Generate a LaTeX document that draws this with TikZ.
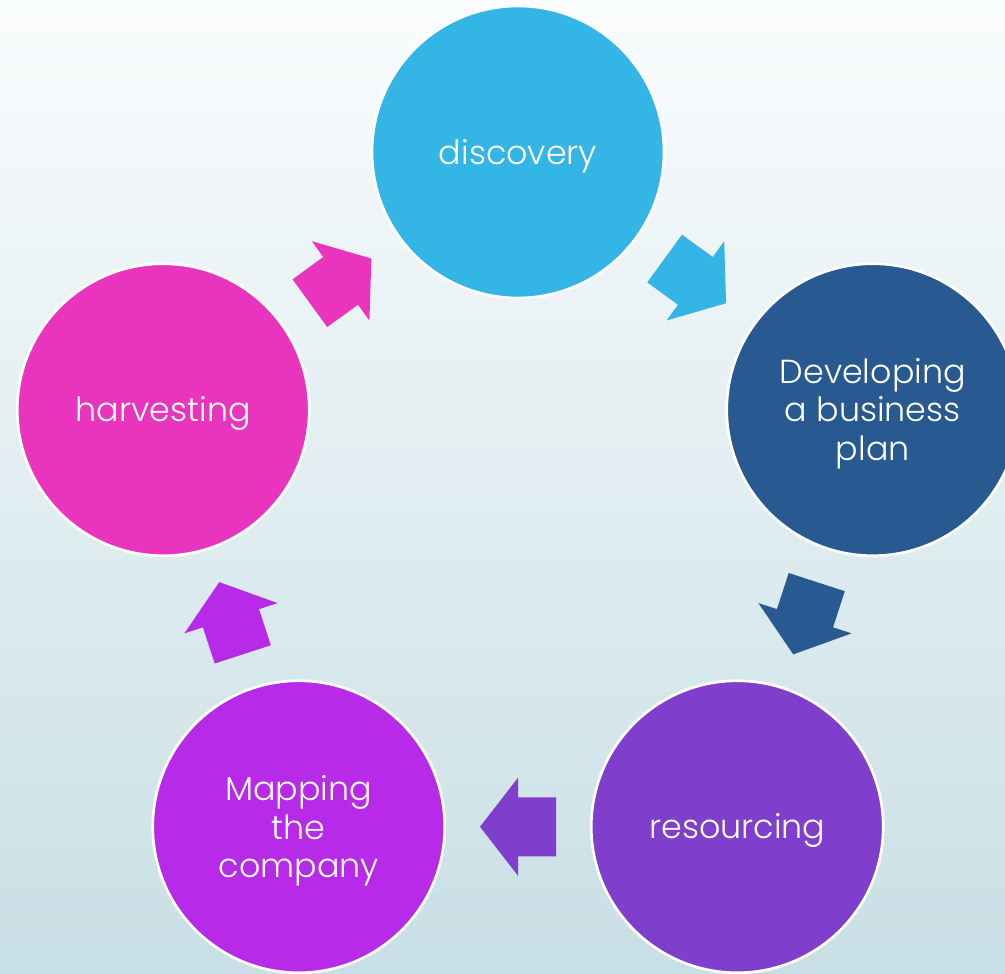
\documentclass[tikz,border=0pt]{standalone}
\usepackage{fontspec}
\setmainfont{Poppins Light}
\usetikzlibrary{calc}

\definecolor{bgtop}{RGB}{250,252,253}
\definecolor{bgbot}{RGB}{200,223,229}
\definecolor{cdisc}{RGB}{51,181,229}
\definecolor{cdev}{RGB}{40,90,145}
\definecolor{cres}{RGB}{127,63,204}
\definecolor{cmap}{RGB}{182,42,232}
\definecolor{charv}{RGB}{233,53,190}

% block arrow placed halfway between two stages, pointing along the cycle
\newcommand\stagearrow[4]{%
  \begin{scope}[shift={($(#1)!0.5!(#2)$)}, rotate=#3]
    \fill[#4] (-38,-29.5) -- (0,-29.5) -- (0,-49) -- (38,0)
              -- (0,49) -- (0,29.5) -- (-38,29.5) -- cycle;
  \end{scope}}

\begin{document}
\begin{tikzpicture}[x=0.75pt, y=0.75pt,
  stage/.style={circle, draw=white, line width=2pt, minimum size=219pt,
    inner sep=0pt},
  stagetext/.style={text=white, align=center, inner sep=0pt,
    font=\fontsize{25}{29}\selectfont}]

  % page and soft vertical background
  \useasboundingbox (-518,-448) rectangle (487,525);
  \clip (-518,-448) rectangle (487,525);
  \shade[top color=bgtop, bottom color=bgbot] (-518,-448) rectangle (487,525);

  % the five stages of the cycle
  \node[stage, fill=cdisc] (disc) at (90:373)   {};
  \node[stage, fill=cdev]  (dev)  at (18:373)   {};
  \node[stage, fill=cres]  (res)  at (-54:373)  {};
  \node[stage, fill=cmap]  (map)  at (-126:373) {};
  \node[stage, fill=charv] (harv) at (162:373)  {};

  % their labels
  \node[stagetext] (disc-t) at ([yshift=-3pt]disc.center) {discovery};
  \node[stagetext] (dev-t)  at ([yshift=-3pt]dev.center)  {Developing\\a business\\plan};
  \node[stagetext] (res-t)  at ([yshift=-3pt]res.center)  {resourcing};
  \node[stagetext] (map-t)  at ([yshift=-3pt]map.center)  {Mapping\\the\\company};
  \node[stagetext] (harv-t) at ([yshift=-3pt]harv.center) {harvesting};

  % arrows between consecutive stages
  \stagearrow{harv}{disc}{36}{charv}
  \stagearrow{disc}{dev}{-36}{cdisc}
  \stagearrow{dev}{res}{-108}{cdev}
  \stagearrow{res}{map}{180}{cres}
  \stagearrow{map}{harv}{108}{cmap}
\end{tikzpicture}
\end{document}
